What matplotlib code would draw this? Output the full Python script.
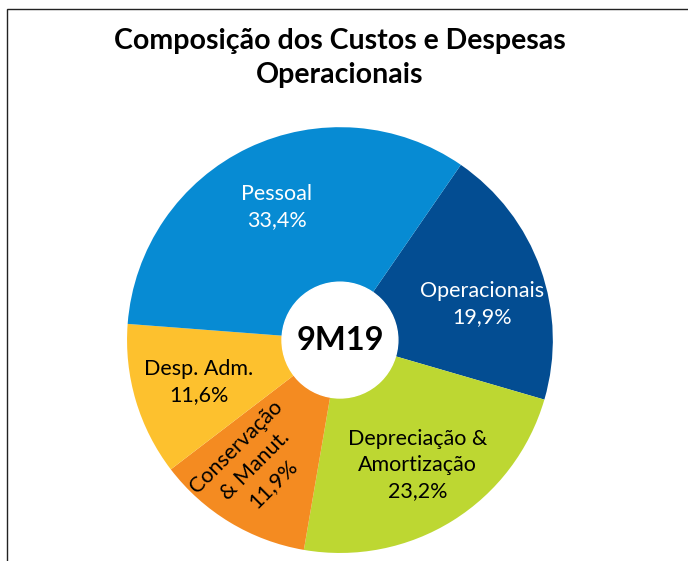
import numpy as np
import matplotlib
matplotlib.use('Agg')
import matplotlib.pyplot as plt
from matplotlib.patches import Rectangle, Circle

# data
labels = ['Operacionais', 'Depreciação &\nAmortização', 'Conservação\n& Manut.', 'Desp. Adm.', 'Pessoal']
values = [19.9, 23.2, 11.9, 11.6, 33.4]
colors = ['#034d92', '#bdd732', '#f48b21', '#fdc12e', '#078bd3']
text_colors = ['white', 'black', 'black', 'black', 'white']
center_text = '9M19'
title = 'Composição dos Custos e Despesas\nOperacionais'

plt.rcParams['font.family'] = ['Lato', 'DejaVu Sans']

fig = plt.figure(figsize=(6.88, 5.61), dpi=100)
ax = fig.add_axes([0.1846, 0.0143, 0.619, 0.759])

wedges, _ = ax.pie(values, colors=colors, startangle=55.4, counterclock=False,
                   radius=1.0, wedgeprops=dict(width=0.73, linewidth=0))
ax.add_patch(Circle((0, 0), 0.272, color='white', zorder=3))

# small nudges of the label angle (degrees) and radius, label placement only
nudge = {0: (-5.5, 0.69), 2: (-3, 0.71)}

for i, (w, lab, v, tc) in enumerate(zip(wedges, labels, values, text_colors)):
    da, r = nudge.get(i, (0, 0.69))
    mid = np.deg2rad((w.theta1 + w.theta2) / 2 + da)
    x, y = r * np.cos(mid), r * np.sin(mid)
    pct = ('%.1f' % v).replace('.', ',') + '%'
    rot = 45 if lab.startswith('Conserva') else 0
    ax.text(x, y, lab + '\n' + pct, ha='center', va='center', color=tc,
            fontsize=15.5, rotation=rot, rotation_mode='anchor', linespacing=1.38, zorder=4)

ax.text(0, 0, center_text, ha='center', va='center', fontsize=23.5, fontweight='bold', zorder=4)
ax.set_xlim(-1, 1)
ax.set_ylim(-1, 1)
ax.set_aspect('equal')
ax.axis('off')

fig.text(0.494, 0.897, title, ha='center', va='center', fontsize=20.5,
         fontweight='bold', linespacing=1.4)

# border of the original chart frame
fig.patches.append(Rectangle((7 / 688, -0.1), 1.0, 1.1 - 9 / 561, transform=fig.transFigure,
                             fill=False, edgecolor='#222222', linewidth=1.0))

fig.savefig('out.png', dpi=100)
